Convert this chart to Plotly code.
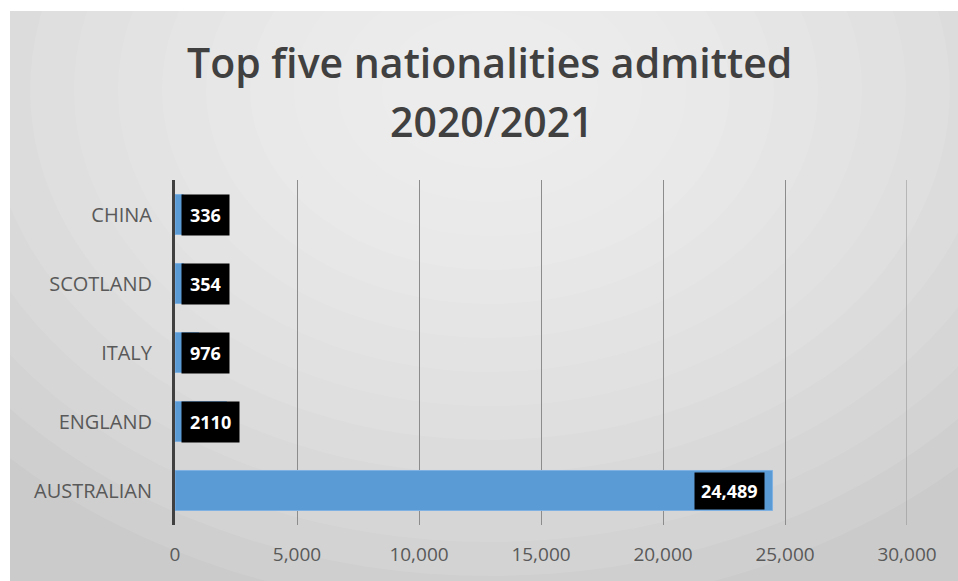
import plotly.graph_objects as go

categories = ["AUSTRALIAN", "ENGLAND", "ITALY", "SCOTLAND", "CHINA"]
values = [24489, 2110, 976, 354, 336]
value_labels = ["24,489", "2110", "976", "354", "336"]
x_ticks = [0, 5000, 10000, 15000, 20000, 25000, 30000]
x_tick_labels = ["0", "5,000", "10,000", "15,000", "20,000", "25,000", "30,000"]
title_lines = ["Top five nationalities admitted", "2020/2021"]

W, H = 958, 581
L, R, T, B = 175, 51, 180, 56
PW, PH = W - L - R, H - T - B


def px(x):
    return (x - L) / PW


def py(y):
    return 1 - (y - T) / PH


fig = go.Figure()
fig.add_trace(go.Bar(
    y=categories, x=values, orientation="h",
    marker=dict(color="#5b9bd5", line=dict(color="#7fb2e3", width=1)),
    hoverinfo="skip", showlegend=False,
))

shapes = []
# background frame
shapes.append(dict(type="rect", xref="paper", yref="paper",
                   x0=px(10), x1=px(958), y0=py(581), y1=py(11),
                   fillcolor="#cbcbcb", line=dict(width=0), layer="below"))
# radial-ish gradient via stacked ellipses
cx, cy = 490, 90
n = 14
for i in range(n):
    rx = 680 - i * 44
    ry = 520 - i * 34
    shapes.append(dict(type="circle", xref="paper", yref="paper",
                       x0=px(cx - rx), x1=px(cx + rx), y0=py(cy + ry), y1=py(cy - ry),
                       fillcolor="rgba(255,255,255,0.085)", line=dict(width=0), layer="below"))
# gridline at the right edge of the range
shapes.append(dict(type="line", xref="x", yref="paper", x0=x_ticks[-1], x1=x_ticks[-1],
                   y0=0, y1=1, line=dict(color="#8c8c8c", width=1)))
fig.update_layout(shapes=shapes)

annotations = []
lab_font = dict(family="Open Sans", size=18, color="white")
for c, v, lab in zip(categories, values, value_labels):
    if v > 5000:
        annotations.append(dict(x=v, y=c, xref="x", yref="y", text="<b>" + lab + "</b>",
                                showarrow=False, xanchor="right", xshift=-8,
                                font=lab_font, bgcolor="black", borderpad=6))
    else:
        annotations.append(dict(x=0, y=c, xref="x", yref="y", text="<b>" + lab + "</b>",
                                showarrow=False, xanchor="left", xshift=6,
                                font=lab_font, bgcolor="black", borderpad=8))

title_font = dict(family="Open Sans", size=41, color="#404040", weight=600)
annotations.append(dict(x=px(489), y=py(62), xref="paper", yref="paper",
                        text=title_lines[0], showarrow=False, xanchor="center", yanchor="middle",
                        font=title_font))
annotations.append(dict(x=px(492), y=py(121), xref="paper", yref="paper",
                        text=title_lines[1], showarrow=False, xanchor="center", yanchor="middle",
                        font=title_font))

fig.update_layout(
    width=W, height=H,
    margin=dict(l=L, r=R, t=T, b=B, pad=0),
    paper_bgcolor="white", plot_bgcolor="rgba(0,0,0,0)",
    bargap=0.42,
    annotations=annotations,
    xaxis=dict(range=[0, 30000], tickvals=x_ticks, ticktext=x_tick_labels,
               showgrid=True, gridcolor="#8c8c8c", gridwidth=1, zeroline=False,
               showline=False, ticks="", ticklabelstandoff=16,
               tickfont=dict(family="Open Sans", size=19, color="#595959"), fixedrange=True),
    yaxis=dict(showline=True, linecolor="#404040", linewidth=3, ticks="",
               ticklabelstandoff=16,
               tickfont=dict(family="Open Sans", size=20, color="#595959"), fixedrange=True),
)

fig.write_html("out.html")
